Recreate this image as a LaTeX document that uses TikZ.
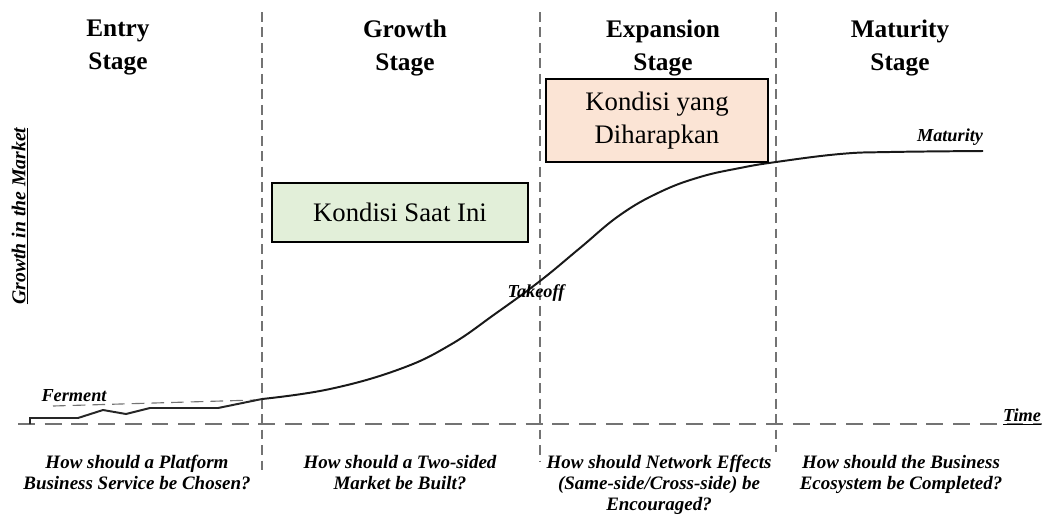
\documentclass[tikz,border=0pt]{standalone}
\usepackage{fontspec}
\setmainfont{Liberation Serif}
\usetikzlibrary{calc}
\definecolor{nowgreen}{HTML}{E2EFD9}
\definecolor{hopepeach}{HTML}{FBE4D5}
\tikzset{
  stageline/.style={line width=0.9pt, color=black!55, dash pattern=on 7pt off 4pt},
  timeline/.style={line width=1pt, color=black!55, dash pattern=on 12pt off 7pt},
  stagetitle/.style={font=\bfseries\fontsize{18}{23}\selectfont, align=center, inner sep=0pt, anchor=north},
  question/.style={font=\bfseries\itshape\fontsize{13.5}{15}\selectfont, align=center, inner sep=0pt, anchor=north},
  curvelabel/.style={font=\bfseries\itshape\fontsize{13}{15}\selectfont, inner sep=0pt},
  condbox/.style={draw, line width=1pt, font=\fontsize{19}{24}\selectfont, align=center, inner sep=0pt}
}

\begin{document}
\begin{tikzpicture}[x=0.025cm, y=-0.025cm]
			%%%%% START %%%%%
			\useasboundingbox (0, 0) rectangle (1049, 515);
			
			% stage borders and time axis
			\draw[stageline] (262, 12) -- (262, 470);
			\draw[stageline] (540, 12) -- (540, 462);
			\draw[stageline] (776, 12) -- (776, 452);
			\draw[timeline] (18, 424) -- (1042, 424);
			
			% stage titles
			\node[stagetitle] (entry) at (118, 20) {Entry\\Stage};
			\node[stagetitle] (growth) at (405, 20) {Growth\\Stage};
			\node[stagetitle] (expansion) at (663, 20) {Expansion\\Stage};
			\node[stagetitle] (maturity) at (900, 20) {Maturity\\Stage};
			
			% axis labels
			\node[curvelabel, font=\bfseries\itshape\fontsize{14}{16}\selectfont, rotate=90] (market) at (20, 216) {\underline{Growth in the Market}};
			\node[curvelabel] (time) at (1022, 417) {\underline{Time}};
			
			% ferment phase
			\draw[line width=0.8pt, color=black!55, dash pattern=on 9pt off 5pt] (53, 406) -- (255, 400);
			\draw[line width=1.4pt, color=black!85] (30, 424) -- (30, 418) -- (78, 418) -- (103, 410) -- (126, 414) -- (150, 408) -- (218, 408) -- (262, 399);
			\node[curvelabel] (ferment) at (74, 396) {Ferment};
			
			% s-curve
			\draw[line width=1.4pt, color=black!90] plot[smooth, tension=0.7] coordinates {(262, 399) (330, 389) (400, 369) (450, 345) (495, 314) (540, 281) (580, 248) (620, 215) (660, 192) (700, 177) (740, 168) (776, 162) (840, 154) (890, 152) (983, 151)};
			\node[curvelabel] (takeoff) at (536, 293) {Takeoff};
			\node[curvelabel] (mature) at (950, 137) {Maturity};
			
			% condition boxes
			\node[condbox, fill=nowgreen, minimum width=6.4cm, minimum height=1.475cm] (now) at (400, 212.5) {Kondisi Saat Ini};
			\node[condbox, fill=hopepeach, minimum width=5.55cm, minimum height=2.075cm] (hope) at (657, 120.5) {Kondisi yang\\Diharapkan};
			
			% questions per stage
			\node[question] (q1) at (137, 455) {How should a Platform\\Business Service be Chosen?};
			\node[question] (q2) at (400, 455) {How should a Two-sided\\Market be Built?};
			\node[question] (q3) at (659, 455) {How should Network Effects\\(Same-side/Cross-side) be\\Encouraged?};
			\node[question] (q4) at (901, 455) {How should the Business\\Ecosystem be Completed?};
			%%%%% END %%%%%
\end{tikzpicture}
\end{document}
